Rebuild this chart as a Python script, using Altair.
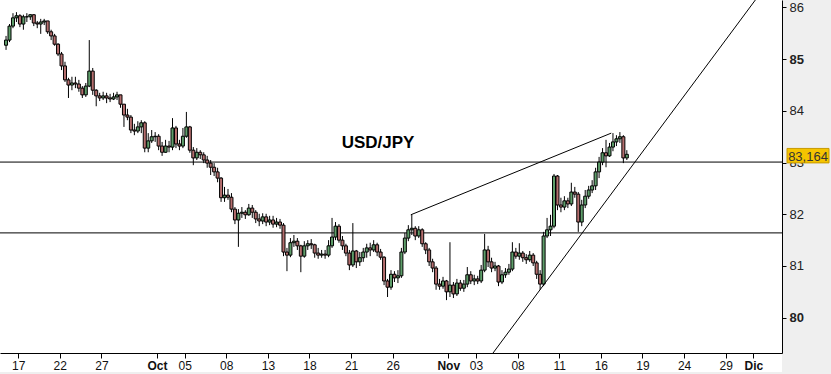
import altair as alt
import pandas as pd

# ---------------- data (USD/JPY, 6-hour bars) ----------------
first_open = 85.27
closes = [
    85.37, 85.64, 85.80, 85.84, 85.68, 85.82, 85.82, 85.86, 85.70, 85.68,
    85.72, 85.74, 85.53, 85.45, 85.29, 85.10, 84.87, 84.60, 84.50, 84.54,
    84.52, 84.44, 84.31, 84.48, 84.77, 84.40, 84.29, 84.25, 84.29, 84.25,
    84.23, 84.27, 84.31, 84.13, 83.92, 83.88, 83.63, 83.61, 83.69, 83.77,
    83.28, 83.42, 83.50, 83.51, 83.32, 83.20, 83.32, 83.30, 83.67, 83.36,
    83.32, 83.51, 83.69, 83.24, 83.09, 83.20, 83.15, 83.05, 82.99, 82.91,
    82.82, 82.70, 82.32, 82.37, 82.33, 82.10, 81.89, 82.02, 82.04, 81.99,
    82.12, 82.04, 81.91, 81.87, 81.95, 81.85, 81.89, 81.81, 81.85, 81.79,
    81.27, 81.21, 81.45, 81.48, 81.39, 81.19, 81.39, 81.43, 81.41, 81.25,
    81.21, 81.23, 81.21, 81.39, 81.56, 81.77, 81.50, 81.39, 81.25, 81.02,
    81.29, 81.08, 81.16, 81.27, 81.35, 81.31, 81.41, 81.27, 81.17, 80.71,
    80.59, 80.84, 80.77, 80.81, 81.27, 81.54, 81.70, 81.73, 81.58, 81.70,
    81.43, 81.31, 81.08, 80.96, 80.65, 80.61, 80.71, 80.50, 80.63, 80.46,
    80.67, 80.57, 80.65, 80.83, 80.71, 80.75, 80.71, 80.92, 81.31, 81.08,
    80.96, 81.00, 80.69, 80.83, 80.88, 80.94, 81.27, 81.19, 81.25, 81.16,
    81.12, 81.21, 81.06, 80.84, 80.65, 81.58, 81.70, 81.77, 82.74, 82.18,
    82.14, 82.26, 82.20, 82.43, 82.39, 81.85, 82.18, 82.35, 82.47, 82.55,
    82.82, 83.01, 83.19, 83.13, 83.30, 83.40, 83.46, 83.50, 83.09, 83.16,
]
highs = [
    85.45, 85.68, 85.89, 85.91, 85.87, 85.86, 85.89, 85.87, 85.87, 85.74,
    85.78, 85.78, 85.74, 85.57, 85.49, 85.31, 85.14, 84.95, 84.64, 84.66,
    84.66, 84.60, 84.48, 84.54, 85.37, 84.83, 84.42, 84.35, 84.37, 84.35,
    84.33, 84.35, 84.37, 84.31, 84.13, 84.04, 83.92, 83.75, 83.80, 83.82,
    83.80, 83.57, 83.63, 83.59, 83.55, 83.40, 83.44, 83.42, 83.86, 83.71,
    83.44, 83.67, 83.98, 83.71, 83.30, 83.28, 83.24, 83.20, 83.13, 83.05,
    82.99, 82.90, 82.72, 82.53, 82.49, 82.41, 82.14, 82.10, 82.14, 82.08,
    82.20, 82.18, 82.08, 82.01, 82.02, 82.01, 81.97, 81.97, 81.93, 81.91,
    81.83, 81.35, 81.54, 81.60, 81.54, 81.41, 81.48, 81.50, 81.52, 81.43,
    81.35, 81.31, 81.31, 81.50, 81.93, 81.85, 81.81, 81.58, 81.43, 81.31,
    81.83, 81.31, 81.27, 81.35, 81.43, 81.45, 81.50, 81.45, 81.33, 81.19,
    80.75, 80.92, 80.90, 80.92, 81.35, 81.64, 81.79, 81.99, 81.77, 81.77,
    81.73, 81.46, 81.35, 81.14, 81.00, 80.75, 80.79, 80.73, 81.46, 80.69,
    80.75, 80.73, 80.73, 80.98, 80.90, 80.83, 80.81, 81.02, 81.62, 81.39,
    81.16, 81.08, 81.02, 80.92, 80.96, 81.04, 81.46, 81.35, 81.44, 81.29,
    81.23, 81.29, 81.25, 81.10, 80.92, 81.66, 81.93, 81.99, 82.78, 82.76,
    82.32, 82.35, 82.32, 82.61, 82.53, 82.43, 82.28, 82.47, 82.55, 82.66,
    82.90, 83.11, 83.28, 83.44, 83.38, 83.57, 83.53, 83.59, 83.53, 83.24,
]
lows = [
    85.18, 85.33, 85.60, 85.72, 85.62, 85.57, 85.72, 85.76, 85.64, 85.60,
    85.49, 85.66, 85.49, 85.37, 85.26, 85.06, 84.79, 84.56, 84.25, 84.40,
    84.44, 84.37, 84.25, 84.27, 84.46, 84.31, 84.09, 84.19, 84.21, 84.15,
    84.17, 84.21, 84.21, 84.06, 83.69, 83.82, 83.57, 83.53, 83.57, 83.57,
    83.20, 83.20, 83.38, 83.40, 83.24, 83.13, 83.19, 83.20, 83.24, 83.28,
    83.24, 83.28, 83.48, 83.19, 82.95, 83.05, 83.07, 82.99, 82.90, 82.76,
    82.74, 82.62, 82.24, 82.24, 82.28, 82.04, 81.81, 81.37, 81.93, 81.91,
    81.97, 81.93, 81.83, 81.77, 81.81, 81.77, 81.79, 81.74, 81.75, 81.72,
    81.19, 80.90, 81.17, 81.37, 81.31, 80.88, 81.16, 81.31, 81.33, 81.16,
    81.14, 81.16, 81.14, 81.17, 81.35, 81.50, 81.45, 81.31, 81.19, 80.92,
    80.98, 80.96, 81.00, 81.08, 81.16, 81.19, 81.27, 81.19, 81.12, 80.63,
    80.40, 80.54, 80.69, 80.67, 80.77, 81.23, 81.48, 81.60, 81.50, 81.54,
    81.37, 81.23, 81.00, 80.88, 80.54, 80.54, 80.56, 80.34, 80.40, 80.38,
    80.42, 80.52, 80.50, 80.59, 80.65, 80.63, 80.65, 80.67, 80.88, 80.98,
    80.88, 80.90, 80.61, 80.65, 80.77, 80.83, 80.90, 81.14, 81.12, 81.08,
    81.04, 81.08, 81.00, 80.75, 80.54, 80.61, 81.54, 81.58, 81.73, 82.08,
    82.04, 82.08, 82.12, 82.16, 82.32, 81.66, 81.77, 82.12, 82.30, 82.41,
    82.47, 82.70, 82.95, 82.91, 83.11, 83.22, 83.32, 83.38, 82.99, 83.05,
]

# time axis: trading-session index (0 = Sep 17), four bars per session
bars_per_session = 4
first_session = -1
tick_pos = [0, 3, 6, 10, 12, 15, 18, 21, 24, 27, 31, 33, 36, 39, 42, 45, 48, 51, 53]
tick_lab = ["17", "22", "27", "Oct", "05", "08", "13", "18", "21", "26",
            "Nov", "03", "08", "11", "16", "19", "24", "29", "Dic"]
bold_x = [10, 31, 53]

y_ticks = [80, 81, 82, 83, 84, 85, 86]
bold_y = [80, 85]

levels = [83.01, 81.64]
resist_t = [28.30, 42.75]
resist_v = [81.99, 83.57]
support_t = [34.23, 53.14]
support_v = [79.317, 86.145]
last_price = 83.164
last_label = "83,164"

x_domain = [-0.95, 54.7]
y_domain = [79.317, 86.145]

# ---------------- build ----------------
opens = [first_open] + closes[:-1]
t = [first_session + (j + 0.5) / bars_per_session for j in range(len(closes))]
df = pd.DataFrame({"t": t, "open": opens, "close": closes, "high": highs, "low": lows})

W, H = 782, 353
FONT = "Liberation Sans Narrow, Arial Narrow, Liberation Sans, sans-serif"

label_expr = ""
for p, l in zip(tick_pos, tick_lab):
    label_expr += f"datum.value == {p} ? '{l}' : "
label_expr += "''"
bold_x_test = " || ".join(f"datum.value == {b}" for b in bold_x)
bold_y_test = " || ".join(f"datum.value == {b}" for b in bold_y)

xs = alt.Scale(domain=x_domain, nice=False, zero=False)
ys = alt.Scale(domain=y_domain, nice=False, zero=False)

x_axis = alt.Axis(values=tick_pos, labelExpr=label_expr, grid=False, title=None,
                  domainColor="black", tickColor="black", tickSize=5,
                  labelFont=FONT, labelFontSize=12, labelColor="#111",
                  labelPadding=2, labelFlush=False, labelOverlap=False, zindex=1,
                  labelFontWeight={"condition": {"test": bold_x_test, "value": "bold"}, "value": "normal"})
y_axis = alt.Axis(orient="right", values=y_ticks, grid=False, title=None,
                  domainColor="black", tickColor="black", tickSize=4,
                  labelFont=FONT, labelFontSize=13, labelColor="#222", labelPadding=3,
                  format="d",
                  labelFontWeight={"condition": {"test": bold_y_test, "value": "bold"}, "value": "normal"})

def X(field):
    return alt.X(field, scale=xs, axis=x_axis)

def Y(field):
    return alt.Y(field, scale=ys, axis=y_axis)

strip = alt.Chart(pd.DataFrame({"k": [0]})).mark_rect(color="white").encode(
    x=alt.value(0), x2=alt.value(W), y=alt.value(H), y2=alt.value(H + 19))

wicks = alt.Chart(df).mark_rule(color="black", strokeWidth=1).encode(
    x=X("t:Q"), y=Y("low:Q"), y2="high:Q")

bodies = alt.Chart(df).mark_bar(size=3, stroke="black", strokeWidth=1).encode(
    x=X("t:Q"), y=Y("open:Q"), y2="close:Q",
    fill=alt.condition("datum.close >= datum.open", alt.value("#5E9E6A"), alt.value("#B56E6E")))

lev = alt.Chart(pd.DataFrame({"v": levels})).mark_rule(color="black", strokeWidth=1).encode(
    y=Y("v:Q"))

tl = pd.DataFrame({"t": resist_t + support_t, "v": resist_v + support_v,
                   "line": ["r", "r", "s", "s"]})
trend = alt.Chart(tl).mark_line(color="black", strokeWidth=1, clip=True).encode(
    x=X("t:Q"), y=Y("v:Q"), detail="line:N")

title = alt.Chart(pd.DataFrame({"k": [0]})).mark_text(
    text="USD/JPY", font="Liberation Sans", fontSize=17, fontWeight="bold", color="black"
).encode(x=alt.value(378), y=alt.value(143))

tag_df = pd.DataFrame({"top": [last_price + 0.11], "bot": [last_price - 0.17],
                       "mid": [last_price - 0.03]})
tag = alt.Chart(tag_df).mark_rect(
    fill="#F5C400", stroke="#C89A00", strokeWidth=1
).encode(x=alt.value(787), x2=alt.value(829), y=Y("top:Q"), y2="bot:Q")

tag_text = alt.Chart(tag_df).mark_text(
    text=last_label, font=FONT, fontSize=13, color="#333", dy=1
).encode(x=alt.value(808), y=Y("mid:Q"))

chart = alt.layer(strip, lev, wicks, bodies, trend, title, tag, tag_text).properties(
    width=W, height=H,
    autosize=alt.AutoSizeParams(type="none"),
    padding={"left": 0, "top": 0, "right": 49, "bottom": 21},
    background="#EFEFEF",
).configure_view(fill="white", stroke=None)

chart.save("out.html", embed_options={"renderer": "svg", "actions": False})
